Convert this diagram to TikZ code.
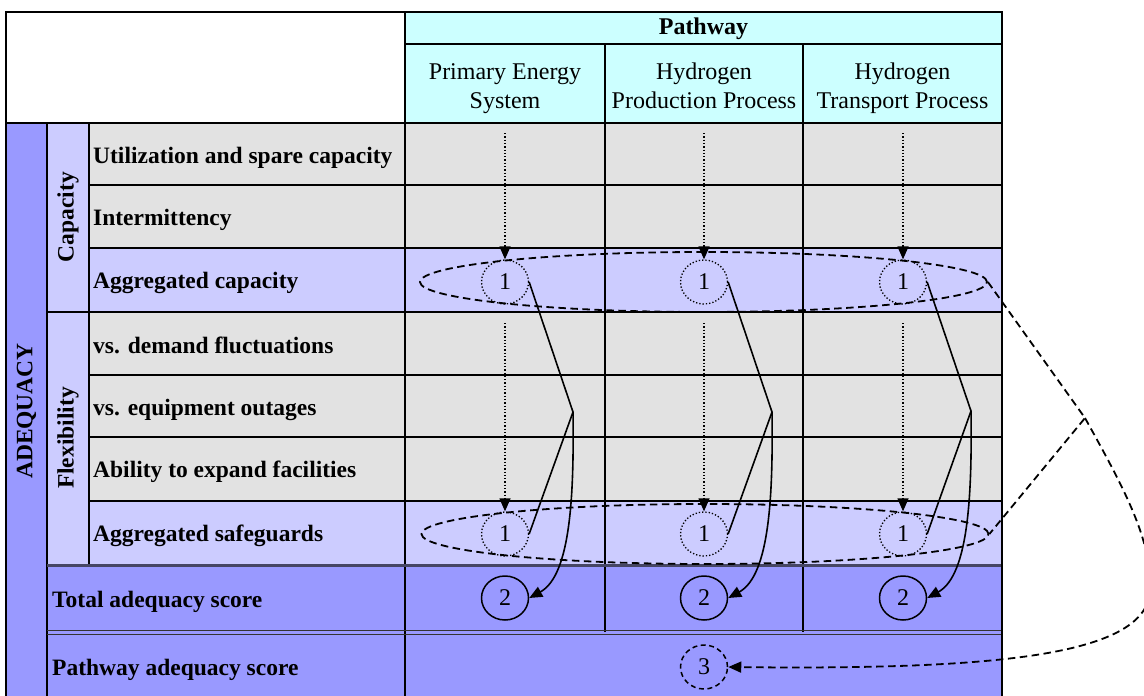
\documentclass[tikz,border=0pt]{standalone}
\usepackage{fontspec}
\setmainfont{Liberation Serif}
\usetikzlibrary{arrows.meta,shapes.geometric}
\definecolor{hdr}{HTML}{CCFFFF}
\definecolor{grayrow}{HTML}{E2E2E2}
\definecolor{lav}{HTML}{CCCCFF}
\definecolor{blu}{HTML}{9999FF}
\definecolor{sepline}{RGB}{70,70,100}
\begin{document}
\begin{tikzpicture}[x=1pt,y=-1pt,
  lbl/.style={font=\bfseries\fontsize{23.5}{28}\selectfont, anchor=base west, inner sep=0pt},
  hd/.style={font=\fontsize{24}{29.5}\selectfont, align=center, inner sep=0pt},
  vlab/.style={font=\bfseries\fontsize{23.5}{28}\selectfont, rotate=90, inner sep=0pt},
  numc/.style={ellipse, minimum width=47pt, minimum height=44pt, inner sep=0pt, font=\fontsize{24}{28}\selectfont},
  dotc/.style={numc, draw, line width=1.3pt, dash pattern=on 1.3pt off 2pt},
  solc/.style={numc, draw, line width=1.5pt},
  dshc/.style={numc, draw, line width=1.5pt, dash pattern=on 5pt off 3.5pt},
  bigell/.style={ellipse, draw, line width=1.8pt, dash pattern=on 7.5pt off 4.5pt, minimum width=567pt, minimum height=60pt, inner sep=0pt},
  thickl/.style={line width=2.3pt},
  thinl/.style={line width=1.3pt},
  arr/.style={-{Triangle[length=13pt,width=11pt]}},
  dotl/.style={line width=1.3pt, dash pattern=on 1.3pt off 2pt},
  soll/.style={line width=1.6pt},
  dshl/.style={line width=1.8pt, dash pattern=on 7.5pt off 4.5pt},
]
\useasboundingbox (0,0) rectangle (1144,696);
\clip (0,0) rectangle (1144,696);
\fill[white] (0,0) rectangle (1144,696);
% cell fills
\fill[hdr] (405,12) rectangle (1002,123);
\fill[blu] (6,123) rectangle (47,700);
\fill[lav] (47,123) rectangle (89,565);
\fill[grayrow] (89,123) rectangle (1002,248);
\fill[lav] (89,248) rectangle (1002,312);
\fill[grayrow] (89,312) rectangle (1002,501);
\fill[lav] (89,501) rectangle (1002,565);
\fill[blu] (47,565) rectangle (1002,700);
% thin grid lines
\draw[thinl] (89,185) -- (1002,185);
\draw[thinl] (89,375) -- (1002,375);
\draw[thinl] (89,437) -- (1002,437);
\draw[thinl] (605,44) -- (605,632);
\draw[thinl] (803,44) -- (803,632);
% thick grid lines
\draw[thickl] (405,44) -- (1002,44);
\draw[thickl] (6,123) -- (1002,123);
\draw[thickl] (89,248) -- (1002,248);
\draw[thickl] (47,312) -- (1002,312);
\draw[thickl] (89,501) -- (1002,501);
\draw[thickl] (47,123) -- (47,700);
\draw[thickl] (89,123) -- (89,565);
\draw[thickl] (405,12) -- (405,700);
\draw[line width=3pt, sepline] (47,565.5) -- (1002,565.5);
\draw[line width=1pt, black!80] (47,630.5) -- (1002,630.5);
\draw[line width=1pt, black!80] (47,634) -- (1002,634);
\draw[line width=2.8pt] (6,700) -- (6,12) -- (1002,12) -- (1002,700);
% header texts
\node[hd, font=\bfseries\fontsize{24}{29.5}\selectfont] (pw) at (703.5,29) {Pathway\strut};
\node[hd] (h1) at (505,88) {Primary Energy\strut\\System\strut};
\node[hd] (h2) at (704,88) {Hydrogen\strut\\Production Process\strut};
\node[hd] (h3) at (902.5,88) {Hydrogen\strut\\Transport Process\strut};
% row labels
\node[lbl] (r1) at (93,163) {Utilization and spare capacity};
\node[lbl] (r2) at (93,225) {Intermittency};
\node[lbl] (r3) at (93,288) {Aggregated capacity};
\node[lbl] (r4) at (93,353) {vs. demand fluctuations};
\node[lbl] (r5) at (93,415) {vs. equipment outages};
\node[lbl] (r6) at (93,477) {Ability to expand facilities};
\node[lbl] (r7) at (93,541) {Aggregated safeguards};
\node[lbl] (r8) at (52,607) {Total adequacy score};
\node[lbl] (r9) at (52,675) {Pathway adequacy score};
\node[vlab] (vA) at (26.5,411) {ADEQUACY};
\node[vlab] (vC) at (68,217) {Capacity};
\node[vlab] (vF) at (68,438) {Flexibility};
% group ellipses
\node[bigell] (e1) at (703.5,282) {};
\node[bigell] (e2) at (705,534) {};
% score circles
\node[dotc] (a1) at (505,282) {1};
\node[dotc] (b1) at (704,282) {1};
\node[dotc] (c1) at (903,282) {1};
\node[dotc] (a2) at (505,534) {1};
\node[dotc] (b2) at (704,534) {1};
\node[dotc] (c2) at (903,534) {1};
\node[solc] (a3) at (505,598) {2};
\node[solc] (b3) at (704,598) {2};
\node[solc] (c3) at (903,598) {2};
\node[dshc] (p3) at (704,667) {3};
% dotted feed arrows
\coordinate (sa1) at (505,133);
\coordinate (sb1) at (704,133);
\coordinate (sc1) at (903,133);
\coordinate (sa2) at (505,323);
\coordinate (sb2) at (704,323);
\coordinate (sc2) at (903,323);
\draw[dotl, arr] (sa1) -- (a1.north);
\draw[dotl, arr] (sb1) -- (b1.north);
\draw[dotl, arr] (sc1) -- (c1.north);
\draw[dotl, arr] (sa2) -- (a2.north);
\draw[dotl, arr] (sb2) -- (b2.north);
\draw[dotl, arr] (sc2) -- (c2.north);
% joins to total score
\coordinate (ja) at (573,412);
\coordinate (jb) at (772,412);
\coordinate (jc) at (971,411);
\draw[soll] (a1.east) -- (ja) -- (a2.east);
\draw[soll] (b1.east) -- (jb) -- (b2.east);
\draw[soll] (c1.east) -- (jc) -- (c2.east);
\draw[soll, arr] (ja) .. controls +(1,80) and +(42,-23) .. (a3.east);
\draw[soll, arr] (jb) .. controls +(1,80) and +(42,-23) .. (b3.east);
\draw[soll, arr] (jc) .. controls +(1,80) and +(42,-23) .. (c3.east);
% pathway aggregation
\coordinate (jr) at (1085,418);
\draw[dshl] (e1.east) -- (jr) -- (e2.east);
\draw[dshl, arr] (jr) .. controls (1125,490) and (1152,540) .. (1150,590)
  .. controls (1148,655) and (1000,670) .. (p3.east);
\end{tikzpicture}
\end{document}
